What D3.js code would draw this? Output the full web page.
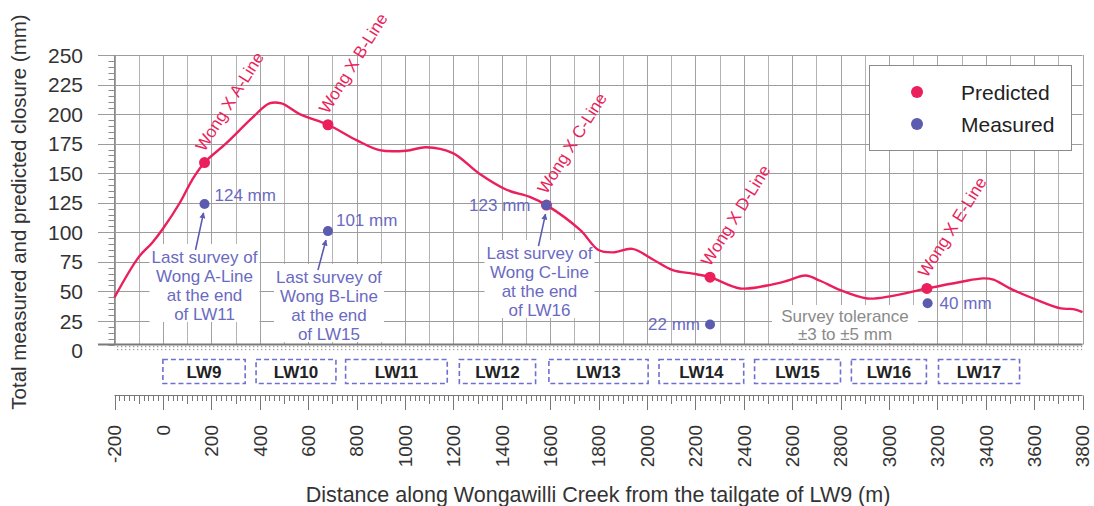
<!DOCTYPE html>
<html>
<head>
<meta charset="utf-8">
<script src="https://cdn.jsdelivr.net/npm/d3@7"></script>
<style>
  html, body { margin: 0; padding: 0; background: #fff; }
  svg { display: block; font-family: "Liberation Sans", Arial, sans-serif; }
</style>
</head>
<body>
<svg id="chart" width="1094" height="506"></svg>
<script>
// ---------------- DATA ----------------
const profileDistance = [-200, -100, -45, 0, 70, 120, 172, 260, 370, 440, 490, 565, 682, 800, 895, 1005, 1087, 1198, 1305, 1420, 1516, 1585, 1724, 1800, 1860, 1940, 2025, 2107, 2190, 2261, 2385, 2497, 2580, 2655, 2716, 2800, 2910, 3005, 3157, 3295, 3390, 3432, 3500, 3597, 3710, 3762, 3800];
const profilePredicted = [45, 79, 91, 103, 125, 144, 159, 175, 197, 209, 209, 200, 191, 178, 169.5, 169, 172, 167, 150, 136, 130, 123, 102, 85, 83, 86, 77, 68, 65, 62, 52.5, 55, 59, 63.5, 59, 51, 44, 45.8, 52.5, 58, 61, 60, 52.5, 44, 35.6, 35, 32.5];

const wongNames = ["Wong X A-Line", "Wong X B-Line", "Wong X C-Line", "Wong X D-Line", "Wong X E-Line"];
const wongDistance = [172, 682, 1585, 2261, 3157];
const wongPredicted = [159, 191, 123, 62, 52.5];

const measuredDistance = [172, 682, 1585, 2261, 3160];
const measuredValue = [124, 101, 123, 22, 40];
const measuredLabels = ["124 mm", "101 mm", "123 mm", "22 mm", "40 mm"];

const surveyNotes = [
  ["Last survey of", "Wong A-Line", "at the end", "of LW11"],
  ["Last survey of", "Wong B-Line", "at the end", "of LW15"],
  ["Last survey of", "Wong C-Line", "at the end", "of LW16"]
];
const toleranceNote = ["Survey tolerance", "±3 to ±5 mm"];

const panelNames = ["LW9", "LW10", "LW11", "LW12", "LW13", "LW14", "LW15", "LW16", "LW17"];
const panelStart = [0, 385, 755, 1225, 1595, 2050, 2445, 2845, 3205];
const panelEnd = [340, 715, 1175, 1540, 2005, 2400, 2800, 3155, 3540];

const yTicks = [0, 25, 50, 75, 100, 125, 150, 175, 200, 225, 250];
const xTicks = d3.range(-200, 3801, 200);

const xTitle = "Distance along Wongawilli Creek from the tailgate of LW9 (m)";
const yTitle = "Total measured and predicted closure (mm)";
const legendNames = ["Predicted", "Measured"];

// ---------------- STYLE ----------------
const RED = "#ea1f5c";
const BLUE = "#5b5bb0";
const NOTE = "#6a6ac2";
const GRID = "#b4b4b4";

const svg = d3.select("#chart");
const x = d3.scaleLinear().domain([-200, 3800]).range([114.5, 1082.5]);
const y = d3.scaleLinear().domain([0, 250]).range([350.5, 55]);

const defs = svg.append("defs");
const pat = defs.append("pattern").attr("id", "dots").attr("patternUnits", "userSpaceOnUse")
  .attr("width", 4).attr("height", 3);
pat.append("rect").attr("x", 1).attr("y", 1).attr("width", 1.3).attr("height", 1.3).attr("fill", "#9a9a9a");
const mk = defs.append("marker").attr("id", "arrow").attr("viewBox", "0 0 10 10")
  .attr("refX", 9).attr("refY", 5).attr("markerWidth", 6).attr("markerHeight", 6)
  .attr("orient", "auto-start-reverse").attr("markerUnits", "userSpaceOnUse");
mk.append("path").attr("d", "M0,0 L10,5 L0,10 z").attr("fill", BLUE);

const plotTop = y(250), plotBottom = y(5);

// ---------------- GRID ----------------
const g = svg.append("g");
g.selectAll("line.vg").data(d3.range(-200, 3801, 100)).join("line")
  .attr("x1", d => Math.round(x(d)) + 0.5).attr("x2", d => Math.round(x(d)) + 0.5)
  .attr("y1", plotTop).attr("y2", plotBottom)
  .attr("stroke", d => d % 200 === 0 ? "#a2a2a2" : GRID).attr("stroke-width", 1);
g.selectAll("line.hg").data(yTicks.filter(d => d > 0)).join("line")
  .attr("x1", 98).attr("x2", x(3800))
  .attr("y1", d => Math.round(y(d)) + 0.5).attr("y2", d => Math.round(y(d)) + 0.5)
  .attr("stroke", "#9c9c9c").attr("stroke-width", 1);

// tolerance band & baseline
g.append("rect").attr("x", x(-200)).attr("y", y(5)).attr("width", x(3800) - x(-200))
  .attr("height", y(0) - y(5)).attr("fill", "url(#dots)");
g.append("line").attr("x1", 98).attr("x2", x(3800)).attr("y1", y(5)).attr("y2", y(5))
  .attr("stroke", "#7a7a7a").attr("stroke-width", 2);

// y axis line with minor ticks
g.append("line").attr("x1", x(-200)).attr("x2", x(-200)).attr("y1", plotTop).attr("y2", plotBottom)
  .attr("stroke", "#8a8a8a").attr("stroke-width", 1);
g.selectAll("line.ym").data(d3.range(5, 250, 5).filter(d => d % 25 !== 0)).join("line")
  .attr("x1", x(-200) - 6).attr("x2", x(-200))
  .attr("y1", d => Math.round(y(d)) + 0.5).attr("y2", d => Math.round(y(d)) + 0.5)
  .attr("stroke", "#8a8a8a");

// y tick labels
svg.append("g").selectAll("text").data(yTicks).join("text")
  .attr("x", 83).attr("y", d => y(d)).attr("dy", "0.36em")
  .attr("text-anchor", "end").attr("font-size", 21).attr("fill", "#333")
  .text(d => d);

// white backgrounds behind notes
const noteAnchor = [
  {cx: x(measuredDistance[0]), top: 244},
  {cx: x(measuredDistance[1]) + 1, top: 264},
  {cx: x(measuredDistance[2]) - 7, top: 240}
];
surveyNotes.forEach((lines, i) => {
  svg.append("rect").attr("x", noteAnchor[i].cx - 55).attr("y", noteAnchor[i].top)
    .attr("width", 110).attr("height", 78).attr("fill", "#fff");
});
svg.append("rect").attr("x", 772).attr("y", 305).attr("width", 146).attr("height", 38).attr("fill", "#fff");

// ---------------- PREDICTED LINE ----------------
const profile = profileDistance.map((d, i) => [d, profilePredicted[i]]);
svg.append("path").datum(profile)
  .attr("fill", "none").attr("stroke", RED).attr("stroke-width", 2.4)
  .attr("d", d3.line().x(d => x(d[0])).y(d => y(d[1])).curve(d3.curveCatmullRom.alpha(0.5)));

// Wong line markers and labels
wongNames.forEach((name, i) => {
  const px = x(wongDistance[i]), py = y(wongPredicted[i]);
  svg.append("text")
    .attr("transform", `translate(${px},${py - 10}) rotate(-58)`)
    .attr("font-size", 17).attr("fill", RED).text(name);
});
svg.append("g").selectAll("circle").data(wongDistance).join("circle")
  .attr("cx", d => x(d)).attr("cy", (d, i) => y(wongPredicted[i])).attr("r", 5.5).attr("fill", RED);

// ---------------- MEASURED ----------------
svg.append("g").selectAll("circle").data(measuredDistance).join("circle")
  .attr("cx", d => x(d)).attr("cy", (d, i) => y(measuredValue[i])).attr("r", 5).attr("fill", BLUE);

const labelPos = [
  {dx: 10, dy: -9, anchor: "start"},
  {dx: 8, dy: -11, anchor: "start"},
  {dx: -16, dy: 0, anchor: "end"},
  {dx: -10, dy: 0, anchor: "end"},
  {dx: 12, dy: 0, anchor: "start"}
];
measuredLabels.forEach((t, i) => {
  svg.append("text")
    .attr("x", x(measuredDistance[i]) + labelPos[i].dx)
    .attr("y", y(measuredValue[i]) + labelPos[i].dy).attr("dy", "0.35em")
    .attr("text-anchor", labelPos[i].anchor).attr("font-size", 17).attr("fill", NOTE).text(t);
});

// survey notes
surveyNotes.forEach((lines, i) => {
  const t = svg.append("text").attr("font-size", 17).attr("fill", NOTE).attr("text-anchor", "middle");
  lines.forEach((l, k) => {
    t.append("tspan").attr("x", noteAnchor[i].cx).attr("y", noteAnchor[i].top + 13 + k * 19)
      .attr("dy", "0.35em").text(l);
  });
});
// arrows
const arrowOff = [[-9, 46, -1, 9], [-10, 39, -2, 9], [-8, 41, -1, 9]];
arrowOff.forEach((a, i) => {
  const px = x(measuredDistance[i]), py = y(measuredValue[i]);
  svg.append("line").attr("x1", px + a[0]).attr("y1", py + a[1]).attr("x2", px + a[2]).attr("y2", py + a[3])
    .attr("stroke", BLUE).attr("stroke-width", 1.6).attr("marker-end", "url(#arrow)");
});

// tolerance note
const tt = svg.append("text").attr("font-size", 17).attr("fill", "#8a8a8a").attr("text-anchor", "middle");
toleranceNote.forEach((l, k) => {
  tt.append("tspan").attr("x", 845).attr("y", 316 + k * 18.5).attr("dy", "0.35em").text(l);
});

// ---------------- LEGEND ----------------
const lg = svg.append("g");
lg.append("rect").attr("x", 869.5).attr("y", 65.5).attr("width", 202).attr("height", 85)
  .attr("fill", "#fff").attr("stroke", "#8a8a8a").attr("stroke-width", 1);
[RED, BLUE].forEach((c, i) => {
  lg.append("circle").attr("cx", 917).attr("cy", 92 + i * 32).attr("r", 6).attr("fill", c);
  lg.append("text").attr("x", 961).attr("y", 92 + i * 32).attr("dy", "0.36em")
    .attr("font-size", 21).attr("fill", "#222").text(legendNames[i]);
});

// ---------------- PANELS ----------------
const pg = svg.append("g");
panelNames.forEach((n, i) => {
  pg.append("rect").attr("x", x(panelStart[i])).attr("y", 359.5)
    .attr("width", x(panelEnd[i]) - x(panelStart[i])).attr("height", 24)
    .attr("fill", "none").attr("stroke", "#6f6fd0").attr("stroke-width", 1.6)
    .attr("stroke-dasharray", "5,3");
  pg.append("text").attr("x", (x(panelStart[i]) + x(panelEnd[i])) / 2).attr("y", 371.5)
    .attr("dy", "0.36em").attr("text-anchor", "middle").attr("font-size", 17)
    .attr("font-weight", "bold").attr("fill", "#222").text(n);
});

// ---------------- DISTANCE RULER ----------------
const rg = svg.append("g");
rg.append("line").attr("x1", x(-200)).attr("x2", x(3800)).attr("y1", 395.5).attr("y2", 395.5)
  .attr("stroke", "#777").attr("stroke-width", 1.2);
rg.selectAll("line.t").data(d3.range(-200, 3801, 20)).join("line")
  .attr("x1", d => Math.round(x(d)) + 0.5).attr("x2", d => Math.round(x(d)) + 0.5)
  .attr("y1", 395.5)
  .attr("y2", d => d % 200 === 0 ? 410 : (d % 100 === 0 ? 404 : 401))
  .attr("stroke", "#777").attr("stroke-width", 1);
rg.selectAll("text").data(xTicks).join("text")
  .attr("transform", d => `translate(${x(d)},425) rotate(-90)`)
  .attr("dy", "0.36em").attr("text-anchor", "end").attr("font-size", 19).attr("fill", "#333")
  .text(d => d);

// ---------------- TITLES ----------------
svg.append("text").attr("x", 598).attr("y", 494).attr("dy", "0.36em").attr("text-anchor", "middle")
  .attr("font-size", 21.5).attr("fill", "#333").text(xTitle);
svg.append("text").attr("transform", "translate(19,212) rotate(-90)").attr("dy", "0.36em")
  .attr("text-anchor", "middle").attr("font-size", 20.5).attr("fill", "#333").text(yTitle);
</script>
</body>
</html>
